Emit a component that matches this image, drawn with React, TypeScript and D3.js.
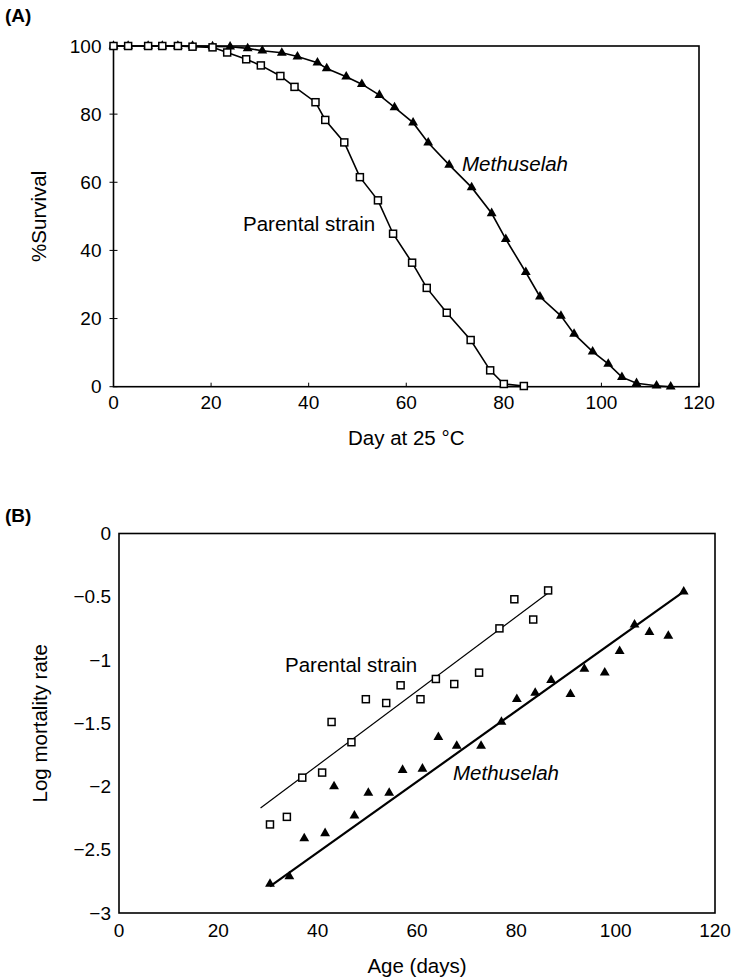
import React from "react";
import * as d3 from "d3";

// ---------- Panel A: survival ----------
const parentalDays = [0, 3, 7.1, 10, 13.2, 16.2, 20.3, 23.3, 27.2, 30.2, 34.2, 37.1, 41.4, 43.4, 47.3, 50.5, 54.2, 57.3, 61.2, 64.2, 68.3, 73.2, 77.2, 80.0, 84.1];
const parentalSurvival = [100, 100, 100, 100, 100, 99.8, 99.6, 98.1, 96.1, 94.3, 91.2, 88.0, 83.5, 78.3, 71.7, 61.5, 54.7, 44.9, 36.4, 29.0, 21.7, 13.7, 4.8, 0.8, 0.2];

const methDays = [0, 3, 7.1, 10, 13.2, 16.2, 20.3, 23.9, 27.5, 30.5, 34.5, 37.7, 41.8, 43.7, 47.7, 50.9, 54.5, 57.6, 61.4, 64.5, 68.8, 73.4, 77.5, 80.4, 84.5, 87.4, 91.7, 94.4, 98.2, 101.4, 104.2, 107.2, 111.3, 114.2];
const methSurvival = [100, 100, 100, 100, 100, 100, 99.9, 99.8, 99.3, 98.6, 98.0, 96.9, 95.1, 93.4, 91.0, 88.8, 85.6, 82.0, 77.5, 71.6, 65.1, 58.5, 50.9, 43.3, 33.6, 26.4, 20.8, 15.5, 10.3, 6.7, 2.8, 1.0, 0.3, 0];

const survivalXTicks = [0, 20, 40, 60, 80, 100, 120];
const survivalYTicks = [0, 20, 40, 60, 80, 100];

// ---------- Panel B: log mortality ----------
const mortParentalDays = [30.4, 33.8, 36.9, 40.9, 42.8, 46.8, 49.7, 53.8, 56.7, 60.7, 63.8, 67.5, 72.5, 76.6, 79.6, 83.4, 86.4];
const mortParental = [-2.30, -2.24, -1.93, -1.89, -1.49, -1.65, -1.31, -1.34, -1.20, -1.31, -1.15, -1.19, -1.10, -0.75, -0.52, -0.68, -0.45];

const mortMethDays = [30.4, 34.3, 37.3, 41.5, 43.3, 47.4, 50.2, 54.4, 57.1, 61.1, 64.3, 68.0, 72.9, 77.0, 80.1, 83.8, 87.0, 90.9, 93.7, 97.8, 100.8, 103.8, 106.8, 110.6, 113.7];
const mortMeth = [-2.77, -2.71, -2.41, -2.37, -2.00, -2.23, -2.05, -2.05, -1.87, -1.86, -1.61, -1.68, -1.68, -1.49, -1.31, -1.26, -1.16, -1.27, -1.07, -1.10, -0.93, -0.72, -0.78, -0.81, -0.46];

// regression line end points
const fitParentalDays = [28.5, 86.4];
const fitParentalValues = [-2.17, -0.47];
const fitMethDays = [30.4, 113.7];
const fitMethValues = [-2.79, -0.46];

const mortXTicks = [0, 20, 40, 60, 80, 100, 120];
const mortYTicks = [0, -0.5, -1, -1.5, -2, -2.5, -3];

const FONT = '"Liberation Sans", Arial, Helvetica, sans-serif';

const fmtMinus = (v: number) => (v < 0 ? "\u2212" + String(Math.abs(v)) : String(v));

export default function App() {
  const W = 731;
  const H = 979;

  const xA = d3.scaleLinear().domain([0, 120]).range([113.5, 699]);
  const yA = d3.scaleLinear().domain([0, 100]).range([386.7, 46]);
  const xB = d3.scaleLinear().domain([0, 120]).range([119, 715]);
  const yB = d3.scaleLinear().domain([-3, 0]).range([913, 533.5]);

  const lineA = d3
    .line<[number, number]>()
    .x((d) => xA(d[0]))
    .y((d) => yA(d[1]));
  const lineB = d3
    .line<[number, number]>()
    .x((d) => xB(d[0]))
    .y((d) => yB(d[1]));

  const parA: [number, number][] = parentalDays.map((d, i) => [d, parentalSurvival[i]]);
  const methA: [number, number][] = methDays.map((d, i) => [d, methSurvival[i]]);
  const parB: [number, number][] = mortParentalDays.map((d, i) => [d, mortParental[i]]);
  const methB: [number, number][] = mortMethDays.map((d, i) => [d, mortMeth[i]]);
  const fitP: [number, number][] = fitParentalDays.map((d, i) => [d, fitParentalValues[i]]);
  const fitM: [number, number][] = fitMethDays.map((d, i) => [d, fitMethValues[i]]);

  const tri = d3.symbol().type(d3.symbolTriangle).size(42)() as string;
  const sq = 7;

  const tickFont = 19;
  const titleFont = 20.5;

  return (
    <svg
      width={W}
      height={H}
      style={{ position: "absolute", left: 0, top: 0, background: "#fff" }}
      fontFamily={FONT}
    >
      <rect x={0} y={0} width={W} height={H} fill="#fff" />

      {/* ================= Panel A ================= */}
      <text x={5} y={22} fontSize={19} fontWeight="bold" fill="#000">
        (A)
      </text>

      {/* frame */}
      <rect
        x={xA(0)}
        y={yA(100)}
        width={xA(120) - xA(0)}
        height={yA(0) - yA(100)}
        fill="none"
        stroke="#000"
        strokeWidth={1.6}
      />
      {/* y ticks */}
      {survivalYTicks.map((t) => (
        <g key={"ay" + t}>
          <line x1={xA(0) - 4} x2={xA(0) + 4} y1={yA(t)} y2={yA(t)} stroke="#000" strokeWidth={1} />
          <text
            x={xA(0) - 12}
            y={yA(t)}
            dy="0.35em"
            textAnchor="end"
            fontSize={tickFont}
            fill="#000"
          >
            {t}
          </text>
        </g>
      ))}
      {/* x ticks */}
      {survivalXTicks.map((t) => (
        <g key={"ax" + t}>
          <line x1={xA(t)} x2={xA(t)} y1={yA(0)} y2={yA(0) - 4} stroke="#000" strokeWidth={1} />
          <text x={xA(t)} y={yA(0) + 22} textAnchor="middle" fontSize={tickFont} fill="#000">
            {t}
          </text>
        </g>
      ))}
      <text x={(xA(0) + xA(120)) / 2} y={445} textAnchor="middle" fontSize={titleFont} fill="#000">
        Day at 25 °C
      </text>
      <text
        transform={`translate(39,${(yA(0) + yA(100)) / 2}) rotate(-90)`}
        dy="0.35em"
        textAnchor="middle"
        fontSize={titleFont}
        fill="#000"
      >
        %Survival
      </text>

      {/* curves */}
      <path d={lineA(parA) || ""} fill="none" stroke="#000" strokeWidth={1.6} />
      <path d={lineA(methA) || ""} fill="none" stroke="#000" strokeWidth={1.6} />
      {methA.map((d, i) => (
        <path key={"mta" + i} d={tri} transform={`translate(${xA(d[0])},${yA(d[1])})`} fill="#000" />
      ))}
      {parA.map((d, i) => (
        <rect
          key={"psa" + i}
          x={xA(d[0]) - sq / 2}
          y={yA(d[1]) - sq / 2}
          width={sq}
          height={sq}
          fill="#fff"
          stroke="#000"
          strokeWidth={1.5}
        />
      ))}
      <text x={243} y={231} fontSize={titleFont} fill="#000">
        Parental strain
      </text>
      <text x={462} y={171} fontSize={titleFont} fontStyle="italic" fill="#000">
        Methuselah
      </text>

      {/* ================= Panel B ================= */}
      <text x={5} y={522} fontSize={19} fontWeight="bold" fill="#000">
        (B)
      </text>
      <rect
        x={xB(0)}
        y={yB(0)}
        width={xB(120) - xB(0)}
        height={yB(-3) - yB(0)}
        fill="none"
        stroke="#000"
        strokeWidth={1.6}
      />
      {mortYTicks.map((t) => (
        <text
          key={"by" + t}
          x={xB(0) - 8}
          y={yB(t)}
          dy="0.35em"
          textAnchor="end"
          fontSize={tickFont}
          fill="#000"
        >
          {fmtMinus(t)}
        </text>
      ))}
      {mortXTicks.map((t) => (
        <text key={"bx" + t} x={xB(t)} y={yB(-3) + 24} textAnchor="middle" fontSize={tickFont} fill="#000">
          {t}
        </text>
      ))}
      <text x={(xB(0) + xB(120)) / 2} y={973} textAnchor="middle" fontSize={titleFont} fill="#000">
        Age (days)
      </text>
      <text
        transform={`translate(40,${(yB(0) + yB(-3)) / 2}) rotate(-90)`}
        dy="0.35em"
        textAnchor="middle"
        fontSize={titleFont}
        fill="#000"
      >
        Log mortality rate
      </text>

      {/* regression lines */}
      <path d={lineB(fitP) || ""} fill="none" stroke="#000" strokeWidth={1.2} />
      <path d={lineB(fitM) || ""} fill="none" stroke="#000" strokeWidth={2.2} />

      {methB.map((d, i) => (
        <path key={"mtb" + i} d={tri} transform={`translate(${xB(d[0])},${yB(d[1])})`} fill="#000" />
      ))}
      {parB.map((d, i) => (
        <rect
          key={"psb" + i}
          x={xB(d[0]) - sq / 2}
          y={yB(d[1]) - sq / 2}
          width={sq}
          height={sq}
          fill="#fff"
          stroke="#000"
          strokeWidth={1.5}
        />
      ))}
      <text x={285} y={672} fontSize={titleFont} fill="#000">
        Parental strain
      </text>
      <text x={453} y={780} fontSize={titleFont} fontStyle="italic" fill="#000">
        Methuselah
      </text>
    </svg>
  );
}
